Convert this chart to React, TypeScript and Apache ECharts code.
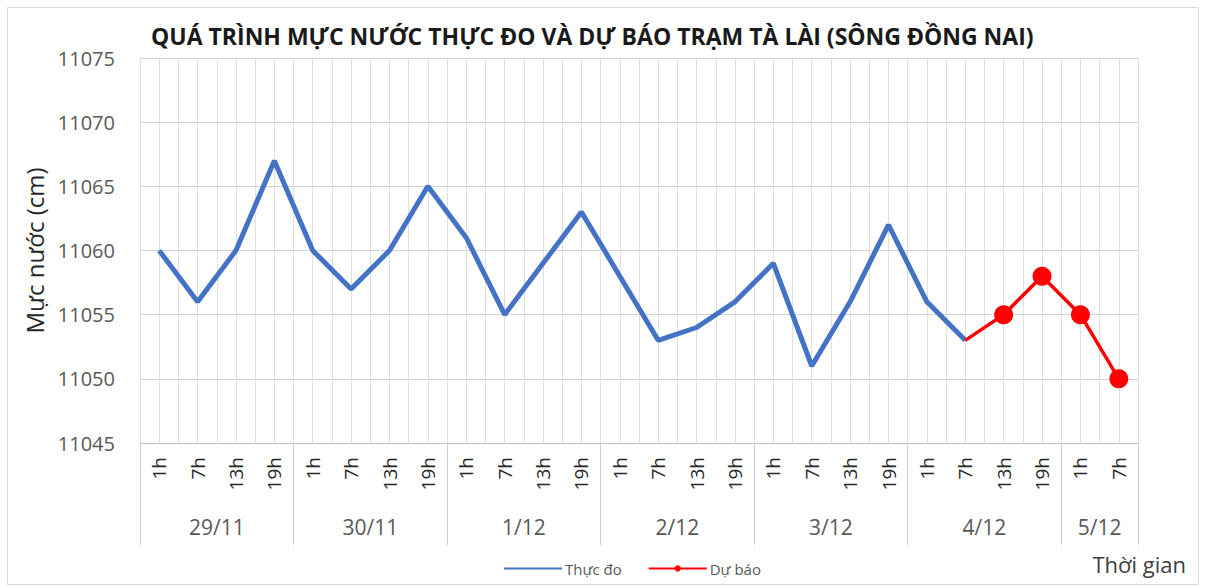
import React, { useEffect, useRef } from 'react';
import * as echarts from 'echarts';

const titleText = 'QUÁ TRÌNH MỰC NƯỚC THỰC ĐO VÀ DỰ BÁO TRẠM TÀ LÀI (SÔNG ĐỒNG NAI)';
const yAxisName = 'Mực nước (cm)';
const xAxisName = 'Thời gian';
const seriesNames = ['Thực đo', 'Dự báo'];

const days = ['29/11', '30/11', '1/12', '2/12', '3/12', '4/12', '5/12'];
const hoursPerDay = [
  ['1h', '7h', '13h', '19h'],
  ['1h', '7h', '13h', '19h'],
  ['1h', '7h', '13h', '19h'],
  ['1h', '7h', '13h', '19h'],
  ['1h', '7h', '13h', '19h'],
  ['1h', '7h', '13h', '19h'],
  ['1h', '7h'],
];

// Observed water level (cm), from 29/11 1h to 4/12 7h
const observed = [
  11060, 11056, 11060, 11067,
  11060, 11057, 11060, 11065,
  11061, 11055, 11059, 11063,
  11058, 11053, 11054, 11056,
  11059, 11051, 11056, 11062,
  11056, 11053,
];
// Forecast (cm), starting at the last observed point 4/12 7h
const forecast = [11053, 11055, 11058, 11055, 11050];

const yMin = 11045;
const yMax = 11075;
const yInterval = 5;

const FONT = '"Open Sans", Lato, sans-serif';

export default function App() {
  const ref = useRef<HTMLDivElement>(null);

  useEffect(() => {
    if (!ref.current) return;
    const chart = echarts.init(ref.current, undefined, { renderer: 'svg' });

    const hourCats: string[] = [];
    const groupStart: number[] = [];
    hoursPerDay.forEach((hs) => {
      groupStart.push(hourCats.length);
      hs.forEach((h) => hourCats.push(h));
    });
    const n = hourCats.length;

    // half-step axis for day labels, separators and vertical gridlines
    const halfData: string[] = [];
    for (let i = 0; i <= 2 * n; i++) halfData.push(String(i));
    const dayAt: Record<number, string> = {};
    const boundary: Record<number, boolean> = {};
    days.forEach((d, gi) => {
      const s = groupStart[gi];
      const c = hoursPerDay[gi].length;
      dayAt[2 * s + c] = d;
      boundary[2 * s] = true;
      boundary[2 * (s + c)] = true;
    });

    const obsData: (number | null)[] = hourCats.map((_, i) => (i < observed.length ? observed[i] : null));
    const fcStart = observed.length - 1;
    const fcData: any[] = hourCats.map((_, i) => {
      const k = i - fcStart;
      if (k < 0 || k >= forecast.length) return null;
      if (k === 0) return { value: forecast[k], symbol: 'none' };
      return forecast[k];
    });

    chart.setOption({
      animation: false,
      textStyle: { fontFamily: FONT },
      title: {
        text: titleText,
        left: 151,
        top: 24,
        padding: 0,
        textStyle: { fontFamily: FONT, fontSize: 23, fontWeight: 'bold', color: '#1a1a1a' },
      },
      graphic: [
        {
          type: 'rect',
          shape: { x: 7.5, y: 7.5, width: 1191, height: 577 },
          style: { fill: 'none', stroke: '#d9d9d9', lineWidth: 1 },
          silent: true,
        },
        {
          type: 'text',
          right: 22,
          top: 553,
          style: { text: xAxisName, fontFamily: FONT, fontSize: 22, fill: '#404040' },
        },
      ],
      legend: {
        data: [
          { name: seriesNames[0], itemStyle: { opacity: 0 } },
          { name: seriesNames[1] },
        ],
        left: 503,
        top: 561,
        padding: 0,
        itemWidth: 58,
        itemHeight: 8,
        itemGap: 26,
        textStyle: { fontFamily: FONT, fontSize: 15, color: '#595959', padding: [0, 0, 0, -2] },
      },
      grid: { left: 140, right: 70, top: 58, bottom: 144, containLabel: false },
      xAxis: [
        {
          type: 'category',
          data: hourCats,
          boundaryGap: true,
          position: 'bottom',
          axisLine: { show: true, lineStyle: { color: '#bfbfbf', width: 1 } },
          axisTick: { show: false },
          splitLine: { show: false },
          axisLabel: {
            interval: 0,
            rotate: 90,
            margin: 14,
            fontFamily: FONT,
            fontSize: 19,
            color: '#262626',
          },
        },
        {
          type: 'category',
          data: halfData,
          boundaryGap: false,
          position: 'bottom',
          offset: 0,
          axisLine: { show: false },
          axisTick: {
            show: true,
            interval: (idx: number) => !!boundary[idx],
            length: 102,
            lineStyle: { color: '#d0d0d0', width: 1 },
          },
          splitLine: { show: true, interval: 0, lineStyle: { color: '#e0e0e0', width: 1 } },
          axisLabel: {
            interval: (idx: number) => dayAt[idx] !== undefined,
            formatter: (v: string) => dayAt[Number(v)] || '',
            margin: 73,
            fontFamily: FONT,
            fontSize: 21,
            color: '#595959',
          },
        },
      ],
      yAxis: {
        type: 'value',
        min: yMin,
        max: yMax,
        interval: yInterval,
        name: yAxisName,
        nameLocation: 'middle',
        nameGap: 92,
        nameRotate: 90,
        nameTextStyle: { fontFamily: FONT, fontSize: 24, color: '#262626' },
        axisLine: { show: false },
        axisTick: { show: false },
        axisLabel: {
          margin: 25,
          fontFamily: FONT,
          fontSize: 20,
          color: '#595959',
          formatter: (v: number) => String(v),
        },
        splitLine: { show: true, lineStyle: { color: '#d4d4d4', width: 1 } },
      },
      series: [
        {
          name: seriesNames[0],
          type: 'line',
          xAxisIndex: 0,
          data: obsData,
          symbol: 'none',
          lineStyle: { color: '#4472C4', width: 5 },
          itemStyle: { color: '#4472C4' },
          z: 3,
        },
        {
          name: seriesNames[1],
          type: 'line',
          xAxisIndex: 0,
          data: fcData,
          symbol: 'circle',
          symbolSize: 19,
          lineStyle: { color: '#FF0000', width: 3.5 },
          itemStyle: { color: '#FF0000' },
          z: 4,
        },
      ],
    });

    return () => chart.dispose();
  }, []);

  return (
    <div
      ref={ref}
      style={{ position: 'absolute', left: 0, top: 0, width: 1208, height: 587, background: '#fff' }}
    />
  );
}
